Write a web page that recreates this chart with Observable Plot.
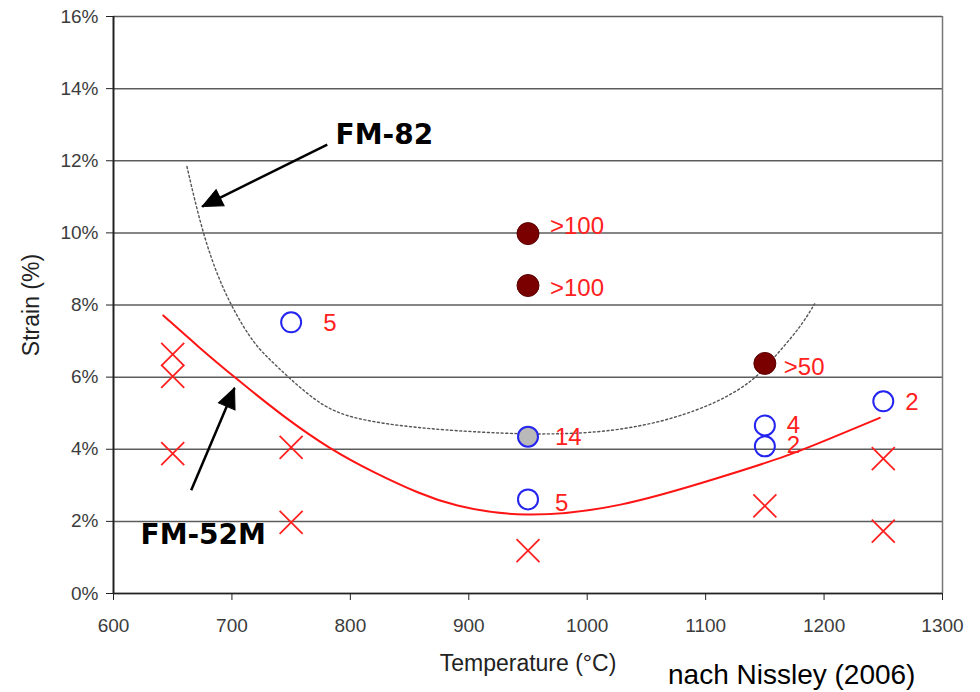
<!DOCTYPE html>
<html><head><meta charset="utf-8">
<script src="https://cdn.jsdelivr.net/npm/d3@7"></script>
<script src="https://cdn.jsdelivr.net/npm/@observablehq/plot@0.6"></script>
<style>
body{margin:0;background:#fff;}
#wrap{position:relative;width:980px;height:692px;}
#caption{position:absolute;left:668px;top:661px;font-family:"Liberation Sans",Arial,sans-serif;font-size:28px;line-height:1;color:#000;white-space:nowrap;}
</style></head><body>
<div id="wrap"><div id="chart"></div><div id="caption">nach Nissley (2006)</div></div>
<script>
// ---- data ----
const xTicks = [600, 700, 800, 900, 1000, 1100, 1200, 1300];
const yTicks = [0, 2, 4, 6, 8, 10, 12, 14, 16];

// failed (crack) specimens: red crosses
const crossT = [650, 650, 650, 750, 750, 950, 1150, 1250, 1250];
const crossS = [6.63, 6.02, 3.88, 4.05, 1.97, 1.19, 2.43, 3.74, 1.73];

// open blue circles (one shaded grey)
const openT = [750, 950, 950, 1150, 1150, 1250];
const openS = [7.52, 4.35, 2.61, 4.66, 4.08, 5.33];
const openShaded = [false, true, false, false, false, false];

// dark red filled circles
const solidT = [950, 950, 1150];
const solidS = [9.98, 8.54, 6.38];

// number labels next to the circles
const labelT = [750, 950, 950, 950, 950, 1150, 1150, 1150, 1250];
const labelS = [7.52, 9.98, 8.54, 4.35, 2.61, 6.38, 4.66, 4.08, 5.33];
const labelText = ["5", ">100", ">100", "14", "5", ">50", "4", "2", "2"];

// FM-52M threshold curve (red solid)
const fm52T = [642, 672, 702, 744, 783, 820, 859, 885, 944, 1028, 1113, 1169, 1214, 1247];
const fm52S = [7.71, 6.83, 6.0, 4.89, 4.0, 3.35, 2.76, 2.45, 2.08, 2.37, 3.23, 3.80, 4.42, 4.87];

// FM-82 threshold curve (grey dotted)
const fm82T = [662, 675, 692, 716, 730, 748, 772, 786, 800, 828, 857, 885, 949, 1011, 1056, 1084, 1113, 1141, 1158, 1180, 1192];
const fm82S = [11.84, 10.0, 8.4, 7.02, 6.55, 5.98, 5.31, 5.07, 4.89, 4.71, 4.60, 4.52, 4.40, 4.45, 4.71, 4.98, 5.35, 5.91, 6.55, 7.38, 8.03];

// annotation arrows
const annoName = ["FM-82", "FM-52M"];
const annoTextT = [787.5, 622.8];
const annoTextS = [12.70, 1.61];
const arrowTailT = [780.5, 665.6];
const arrowTailS = [12.45, 2.86];
const arrowTipT = [674.9, 702.2];
const arrowTipS = [10.73, 5.70];

// ---- tables ----
const crosses = crossT.map((t, i) => ({t, s: crossS[i]}));
const opens = openT.map((t, i) => ({t, s: openS[i], shaded: openShaded[i]}));
const solids = solidT.map((t, i) => ({t, s: solidS[i]}));
const labels = labelT.map((t, i) => ({t, s: labelS[i], text: labelText[i]}));
const fm52 = fm52T.map((t, i) => ({t, s: fm52S[i]}));
const fm82 = fm82T.map((t, i) => ({t, s: fm82S[i]}));
const annos = annoName.map((n, i) => ({name: n, tx: annoTextT[i], ts: annoTextS[i],
  x1: arrowTailT[i], y1: arrowTailS[i], x2: arrowTipT[i], y2: arrowTipS[i]}));

// ---- layout / style ----
const W = 980, H = 692, ML = 113, MR = 38, MT = 16, MB = 99;
const pxPerX = (W - ML - MR) / 700, pxPerY = (H - MT - MB) / 16;
const labelDx = [32, 22, 22, 27, 27, 19, 22, 22, 22];
const labelDy = [1, -7, 3, 1, 4, 4, 0, -1, 1];

const timesSymbol = {draw(ctx, size) {const h = Math.sqrt(size / Math.PI);
  ctx.moveTo(-h, -h); ctx.lineTo(h, h); ctx.moveTo(h, -h); ctx.lineTo(-h, h);}};
const headSymbol = {draw(ctx, size) {const h = Math.sqrt(size / Math.PI);
  ctx.moveTo(0, 0); ctx.lineTo(-0.45 * h, h); ctx.lineTo(0.45 * h, h); ctx.closePath();}};
const headAngle = d => {
  const dx = (d.x2 - d.x1) * pxPerX, dy = -(d.y2 - d.y1) * pxPerY;
  return Math.atan2(dx, -dy) * 180 / Math.PI;
};

const font = "'Liberation Sans', Arial, sans-serif";
const labelMarks = labels.map((d, i) => Plot.text([d], {x: "t", y: "s", text: "text",
  textAnchor: "start", lineAnchor: "middle", dx: labelDx[i], dy: labelDy[i], fontSize: 24, fill: "#ff2020"}));

const chart = Plot.plot({
  width: W, height: H, marginLeft: ML, marginRight: MR, marginTop: MT, marginBottom: MB,
  x: {domain: [600, 1300]},
  y: {domain: [0, 16]},
  style: {fontFamily: font, background: "white"},
  marks: [
    Plot.gridY(yTicks, {stroke: "#5c5c5c", strokeOpacity: 1, strokeWidth: 1.5}),
    Plot.ruleX([1300], {stroke: "#777", strokeWidth: 1.5}),
    Plot.line(fm82, {x: "t", y: "s", curve: "basis", stroke: "#555", strokeWidth: 1.4, strokeDasharray: "2,2.6"}),
    Plot.line(fm52, {x: "t", y: "s", curve: "basis", stroke: "#ff1414", strokeWidth: 2}),
    Plot.dot(crosses, {x: "t", y: "s", symbol: timesSymbol, r: 11.5, stroke: "#ff2020", strokeWidth: 1.8, fill: "none"}),
    Plot.dot(opens, {x: "t", y: "s", r: 10, stroke: "#2424f0", strokeWidth: 2, fill: d => d.shaded ? "#b9b9b9" : "none"}),
    Plot.dot(solids, {x: "t", y: "s", r: 11, fill: "#7a0000", stroke: "#5a0000", strokeWidth: 1}),
    ...labelMarks,
    Plot.link(annos, {x1: "x1", y1: "y1", x2: "x2", y2: "y2", stroke: "#000", strokeWidth: 2.5}),
    Plot.dot(annos, {x: "x2", y: "y2", symbol: headSymbol, r: 20, fill: "#000", stroke: "#000", strokeWidth: 1, rotate: headAngle}),
    Plot.text(annos, {x: "tx", y: "ts", text: "name", textAnchor: "start", lineAnchor: "middle",
      fontSize: 28, fontWeight: "bold", fontFamily: "'DejaVu Sans', Verdana, sans-serif", fill: "#000"}),
    Plot.axisX({ticks: xTicks, tickFormat: d => String(d), tickSize: 7, tickPadding: 18, fontSize: 19, color: "#3c3c3c", stroke: "#222", label: null}),
    Plot.axisY({ticks: yTicks, tickFormat: d => d + "%", tickSize: 7, tickPadding: 8, fontSize: 19, color: "#3c3c3c", stroke: "#222", label: null}),
    Plot.ruleX([600], {stroke: "#222", strokeWidth: 2}),
    Plot.ruleY([0], {stroke: "#222", strokeWidth: 1.6}),
    Plot.text(["Temperature (°C)"], {text: d => d, frameAnchor: "bottom", textAnchor: "middle", dy: 70, lineAnchor: "middle", fontSize: 23, fill: "#222"}),
    Plot.text(["Strain (%)"], {text: d => d, frameAnchor: "left", textAnchor: "middle", dx: -82, rotate: -90, lineAnchor: "middle", fontSize: 23, fill: "#222"})
  ]
});
document.getElementById("chart").append(chart);
</script>
</body></html>
